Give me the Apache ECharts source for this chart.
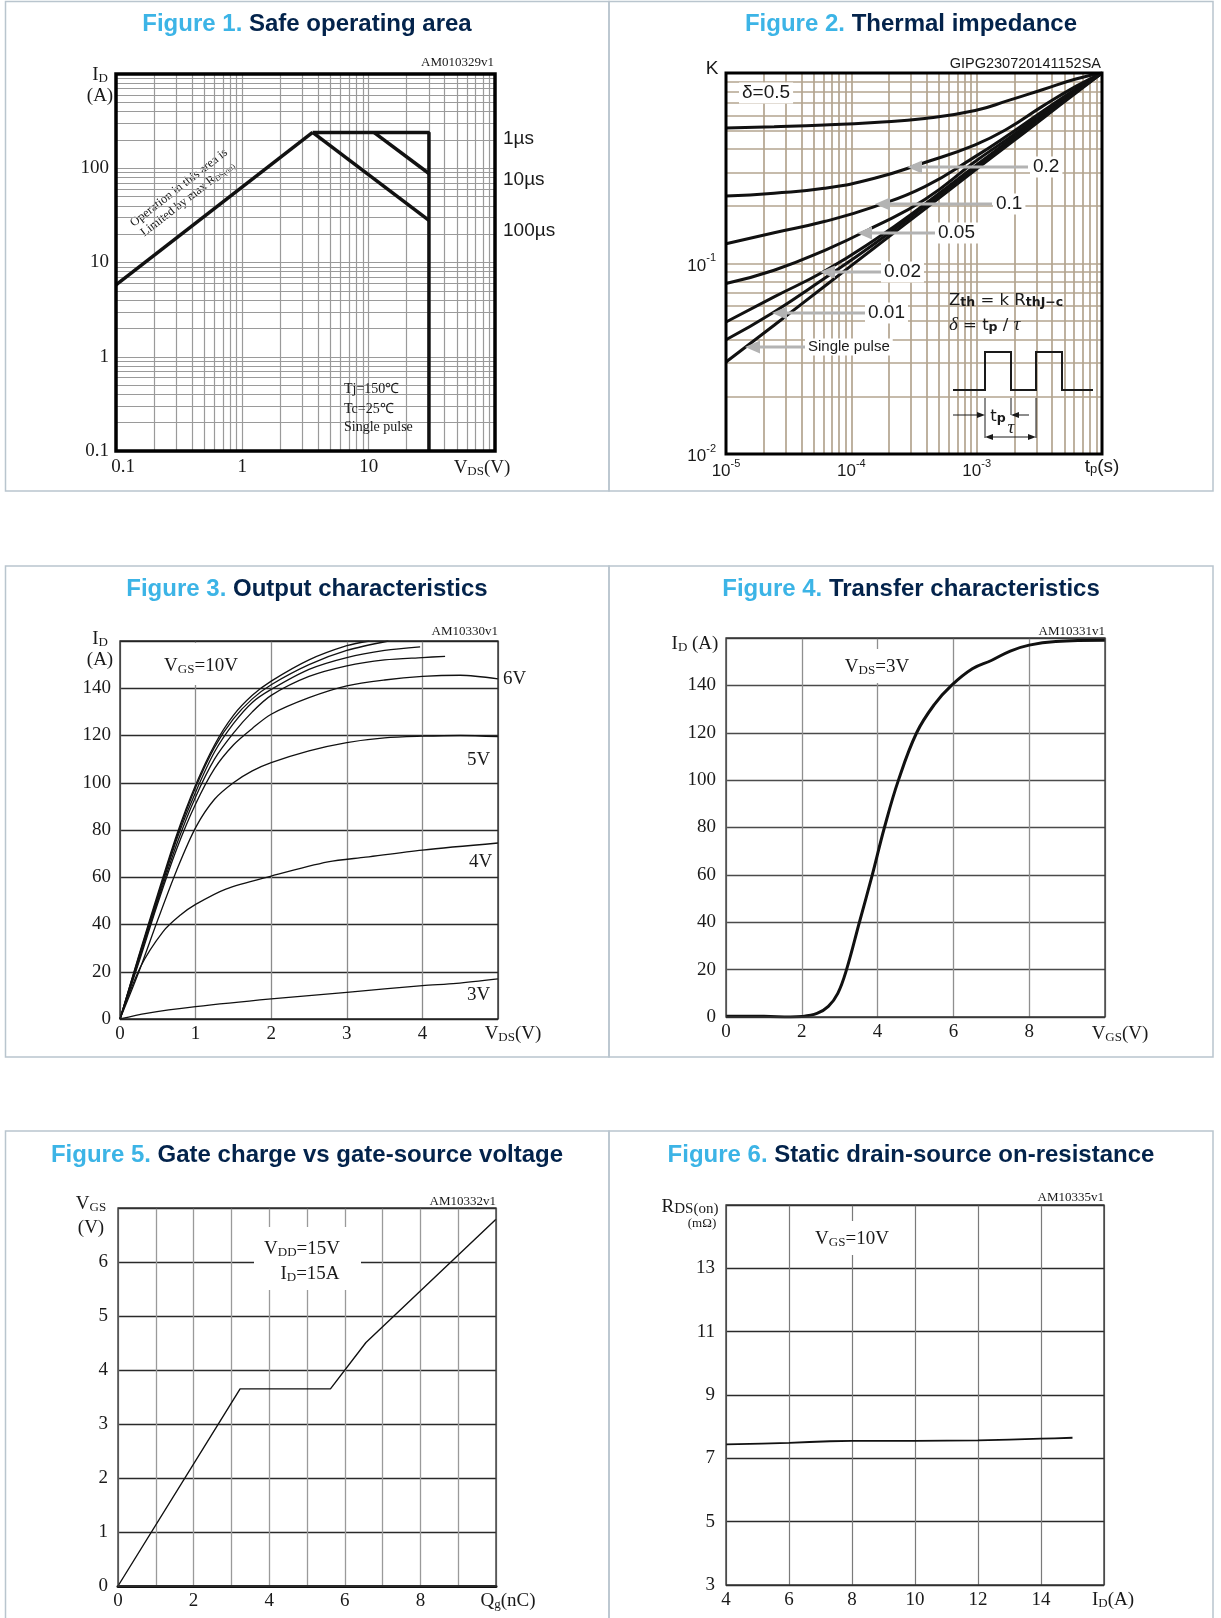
<!DOCTYPE html>
<html><head><meta charset="utf-8">
<script src="https://cdn.jsdelivr.net/npm/echarts@6/dist/echarts.min.js"></script>
<style>html,body{margin:0;padding:0;background:#fff}#c{width:1221px;height:1618px}</style>
</head><body><div id="c"></div>
<script>
// ================= DATA =================
// Figure 1 - Safe operating area  [VDS (V), ID (A)]
const soaRdsLimit = [[0.1, 5.8], [3.6, 240]];
const soa1us      = [[3.6, 240], [30, 240], [30, 0.1]];
const soa10us     = [[11, 240], [30, 88]];
const soa100us    = [[3.6, 240], [30, 28]];
const soaXLabels = {'-1': '{o|0.1}', '0': '1', '1': '10', '2': ''};
const soaYLabels = {'-1': '0.1', '0': '1', '1': '10', '2': '100', '3': ''};

// Figure 2 - Thermal impedance  (tp in s, K)
const zthTime   = [1e-5, 2.42e-5, 6.08e-5, 1.53e-4, 3.86e-4, 9.73e-4, 1.80e-3, 3.34e-3, 6.18e-3, 1e-2];
const zthD05    = [0.514, 0.522, 0.533, 0.550, 0.577, 0.636, 0.718, 0.817, 0.930, 1];
const zthD02    = [0.226, 0.234, 0.248, 0.280, 0.339, 0.420, 0.514, 0.668, 0.851, 1];
const zthD01    = [0.127, 0.145, 0.166, 0.199, 0.253, 0.364, 0.474, 0.628, 0.824, 1];
const zthD005   = [0.0785, 0.0922, 0.117, 0.156, 0.217, 0.343, 0.455, 0.611, 0.811, 1];
const zthD002   = [0.0493, 0.0668, 0.0911, 0.133, 0.205, 0.325, 0.441, 0.596, 0.801, 1];
const zthD001   = [0.0398, 0.0557, 0.0834, 0.127, 0.200, 0.318, 0.432, 0.587, 0.794, 1];
const zthSingle = [0.0304, 0.0474, 0.0757, 0.121, 0.193, 0.309, 0.421, 0.575, 0.785, 1];
const zthXLabels = {'-5': '{b|10}{sup|-5}', '-4': '{b|10}{sup|-4}', '-3': '{b|10}{sup|-3}', '-2': ''};
const zthYLabels = {'-2': '{b|10}{sup|-2}', '-1': '{b|10}{sup|-1}', '0': ''};

// Figure 3 - Output characteristics [VDS (V), ID (A)]
const out10V = [[0,0],[0.25,27],[0.5,53],[0.75,78],[1,99],[1.25,116],[1.5,128.5],[1.75,137],[2,143],[2.5,152],[3,158],[3.3,160]];
const out9V  = [[0,0],[0.25,26.5],[0.5,52],[0.75,77],[1,98],[1.25,115],[1.5,127],[1.75,135.5],[2,141.5],[2.5,150],[3,156],[3.55,160]];
const out8V  = [[0,0],[0.25,26],[0.5,51],[0.75,76],[1,96],[1.25,113],[1.5,125],[1.75,134],[2,139.5],[2.5,148],[3,153],[3.5,156],[3.97,157.5]];
const out7V  = [[0,0],[0.25,25],[0.5,50],[0.75,74],[1,94],[1.25,110],[1.5,121],[1.75,130],[2,137],[2.5,145],[3,149.5],[3.5,152],[4,153],[4.3,153.5]];
const out6V  = [[0,0],[0.25,24],[0.5,49],[0.75,72],[1,91],[1.25,106],[1.5,116],[1.75,123],[2,129],[2.5,136],[3,141],[3.5,143.5],[4,145],[4.5,145.5],[5,144]];
const out5V  = [[0,0],[0.25,20],[0.5,42],[0.75,63],[1,81],[1.25,93],[1.5,100],[1.75,105],[2,108.5],[2.5,113.5],[3,117],[3.5,119],[4,119.7],[4.5,120],[5,119.5]];
const out4V  = [[0,0],[0.27,22],[0.57,37],[0.8,44],[1,48.5],[1.4,55],[2,60.5],[2.75,66.5],[3.25,68.5],[4,71.5],[5,74.5]];
const out3V  = [[0,0],[0.35,2.4],[1,5.2],[2,8.5],[3,11.3],[4,14.1],[4.45,15.1],[5,17]];
const outXTicks = [0, 1, 2, 3, 4];
const outYTicks = [0, 20, 40, 60, 80, 100, 120, 140];

// Figure 4 - Transfer characteristics [VGS (V), ID (A)]
const trVgs = [0, 1.0, 1.7, 2.0, 2.4, 2.7, 2.95, 3.18, 3.52, 3.86, 4.18, 4.55, 5.03, 5.5, 5.95, 6.5, 7.0, 7.5, 8.0, 8.7, 10];
const trId  = [0.3, 0.3, 0, 0.2, 1.5, 4.5, 10, 20, 40, 60, 80, 100, 120, 132, 140, 147, 150.5, 154.5, 157, 158.5, 159];
const trXTicks = [0, 2, 4, 6, 8];
const trYTicks = [0, 20, 40, 60, 80, 100, 120, 140];

// Figure 5 - Gate charge [Qg (nC), VGS (V)]
const gateQ = [0, 3.23, 5.62, 6.56, 10];
const gateV = [0, 3.65, 3.65, 4.51, 6.79];
const gateXTicks = [0, 2, 4, 6, 8];
const gateYTicks = [0, 1, 2, 3, 4, 5, 6];

// Figure 6 - Static drain-source on-resistance [ID (A), RDS(on) (mOhm)]
const rdsId  = [4, 6, 7.3, 8, 10, 12, 14, 15];
const rdsVal = [7.44, 7.49, 7.54, 7.55, 7.55, 7.57, 7.62, 7.65];
const rdsXTicks = [4, 6, 8, 10, 12, 14];
const rdsYTicks = [3, 5, 7, 9, 11, 13];

// ================= STYLE / BUILD =================
const SERIF = "'Liberation Serif','Times New Roman',serif";
const SANS = "'Liberation Sans',Arial,sans-serif";
const DEJA = "'DejaVu Sans',sans-serif";
const INK = '#1a1a1a';

const RS = {
  m:  {fontFamily: SERIF, fontSize: 19, fill: INK, color: INK, lineHeight: 22, verticalAlign: 'bottom'},
  s:  {fontFamily: SERIF, fontSize: 13, fill: INK, color: INK, lineHeight: 18, verticalAlign: 'bottom'},
  ms: {fontFamily: SERIF, fontSize: 15, fill: INK, color: INK, lineHeight: 20, verticalAlign: 'bottom'},
  t:  {fontFamily: SERIF, fontSize: 12.5, fill: INK, color: INK, lineHeight: 14, verticalAlign: 'bottom'},
  ts: {fontFamily: SERIF, fontSize: 8, fill: INK, color: INK, lineHeight: 12, verticalAlign: 'bottom'},
  b:  {fontFamily: SANS, fontSize: 17, fill: INK, color: INK, lineHeight: 22, verticalAlign: 'bottom'},
  sup:{fontFamily: SANS, fontSize: 11, fill: INK, color: INK, lineHeight: 15, verticalAlign: 'top'},
  sub:{fontFamily: SANS, fontSize: 12, fill: INK, color: INK, lineHeight: 14, verticalAlign: 'bottom'},
  bb: {fontFamily: SANS, fontSize: 19, fill: INK, color: INK, lineHeight: 24, verticalAlign: 'bottom'},
  bs: {fontFamily: SANS, fontSize: 13, fill: INK, color: INK, lineHeight: 16, verticalAlign: 'bottom'},
  z:  {fontFamily: DEJA, fontSize: 16.5, fill: INK, color: INK, lineHeight: 22, verticalAlign: 'bottom'},
  zi: {fontFamily: SERIF, fontSize: 19, fontStyle: 'italic', fill: INK, color: INK, lineHeight: 22, verticalAlign: 'bottom'},
  zs: {fontFamily: DEJA, fontSize: 12.5, fontWeight: 'bold', fill: INK, color: INK, lineHeight: 15, verticalAlign: 'bottom'}
};

const G = [];
function rect(x, y, w, h, o) {
  o = o || {};
  G.push({type: 'rect', z: o.z != null ? o.z : 3, silent: true, shape: {x, y, width: w, height: h},
    style: {fill: o.fill === undefined ? '#fff' : o.fill, stroke: o.stroke || null, lineWidth: o.lw || 0}});
}
function text(x, y, str, o) {
  o = o || {};
  const st = {text: str, fill: o.c || INK, fontFamily: o.ff || SERIF, fontSize: o.fs || 19,
    fontWeight: o.fw || 'normal', fontStyle: o.fst || 'normal',
    align: o.al || 'left', textAlign: o.al || 'left', verticalAlign: 'middle', textVerticalAlign: 'middle', rich: RS};
  if (o.bg) { st.backgroundColor = o.bg; st.padding = o.pad || [1, 3]; }
  if (o.rich) st.rich = o.rich;
  G.push({type: 'text', z: o.z || 8, x, y, rotation: o.rot || 0, silent: true, style: st});
}
function pline(pts, o) {
  o = o || {};
  G.push({type: 'polyline', z: o.z || 8, silent: true, shape: {points: pts}, style: {stroke: o.c || INK, lineWidth: o.w || 1, fill: null}});
}
function pgon(pts, o) {
  o = o || {};
  G.push({type: 'polygon', z: o.z || 8, silent: true, shape: {points: pts}, style: {fill: o.c || INK}});
}

// panel frames
const FR = '#b9c5ce';
[[5.5, 1.5, 603.5, 489.5], [609, 1.5, 604, 489.5], [5.5, 566, 603.5, 491], [609, 566, 604, 491],
 [5.5, 1131, 603.5, 520], [609, 1131, 604, 520]].forEach(r => rect(r[0], r[1], r[2], r[3], {fill: null, stroke: FR, lw: 1.5, z: 0}));

// titles
const TR = {
  a: {fontFamily: SANS, fontSize: 24, fontWeight: 'bold', fill: '#3cb4e6', color: '#3cb4e6'},
  b: {fontFamily: SANS, fontSize: 24, fontWeight: 'bold', fill: '#03234b', color: '#03234b'}
};
[[307, 24, 'Figure 1. ', 'Safe operating area'], [911, 24, 'Figure 2. ', 'Thermal impedance'],
 [307, 589, 'Figure 3. ', 'Output characteristics'], [911, 589, 'Figure 4. ', 'Transfer characteristics'],
 [307, 1155, 'Figure 5. ', 'Gate charge vs gate-source voltage'], [911, 1155, 'Figure 6. ', 'Static drain-source on-resistance']
].forEach(t => text(t[0], t[1], '{a|' + t[2] + '}{b|' + t[3] + '}', {al: 'center', rich: TR}));

// ---- Fig 1 annotations
text(100, 74, '{m|I}{s|D}', {al: 'center'});
text(100, 96, '(A)', {al: 'center'});
text(494, 63, 'AM010329v1', {al: 'right', fs: 13});
text(482, 467, '{m|V}{s|DS}{m|(V)}', {al: 'center'});
text(503, 139, '1µs', {ff: SANS, fs: 19});
text(503, 180, '10µs', {ff: SANS, fs: 19});
text(503, 231, '100µs', {ff: SANS, fs: 19});
text(183, 193, '{t|Operation in this area is}\n{t|Limited by max R}{ts|DS(on)}', {al: 'center', rot: 0.66, bg: '#fff', pad: [2, 4], z: 4});
rect(332, 377, 86, 58, {z: 3});
text(344, 389, 'Tj=150℃', {fs: 14});
text(344, 409, 'Tc=25℃', {fs: 14});
text(344, 427, 'Single pulse', {fs: 14});

// ---- Fig 2 annotations
text(712, 69, 'K', {ff: SANS, fs: 19, al: 'center'});
text(1101, 64, 'GIPG230720141152SA', {ff: SANS, fs: 14.5, al: 'right'});
text(1102, 464, '{bb|t}{bs|p}{bb|(s)}', {al: 'center'});
text(739, 93, 'δ=0.5', {ff: SANS, fs: 19, bg: '#fff'});
const ARG = '#b3b3b3';
[[907, 167, 1028], [875, 204, 992], [857, 233, 937], [820, 272, 883], [772, 313, 867], [745, 347, 807]].forEach(a => {
  pline([[a[0] + 10, a[1]], [a[2], a[1]]], {c: ARG, w: 3, z: 7});
  pgon([[a[0], a[1]], [a[0] + 15, a[1] - 6.5], [a[0] + 15, a[1] + 6.5]], {c: ARG, z: 7});
});
[['0.2', 1030, 167], ['0.1', 993, 204], ['0.05', 935, 233], ['0.02', 881, 272], ['0.01', 865, 313]].forEach(l =>
  text(l[1], l[2], l[0], {ff: SANS, fs: 19, bg: '#fff', z: 8}));
text(805, 347, 'Single pulse', {ff: SANS, fs: 15, bg: '#fff', z: 8});
rect(938, 277, 162, 171, {z: 3});
text(949, 298, '{z|Z}{zs|th}{z| = k R}{zs|thJ−c}');
text(949, 323, '{zi|δ}{z| = t}{zs|p}{z| / }{zi|τ}');
pline([[953, 390], [985, 390], [985, 352], [1011, 352], [1011, 390], [1036, 390], [1036, 352], [1062, 352], [1062, 390], [1093, 390]], {w: 2});
pline([[953, 415], [980, 415]], {w: 1});
pgon([[985, 415], [977, 412], [977, 418]]);
pline([[985, 398], [985, 438]], {w: 1});
pline([[1011, 398], [1011, 415]], {w: 1});
pline([[1016, 415], [1029, 415]], {w: 1});
pgon([[1011, 415], [1019, 412], [1019, 418]]);
pline([[1036, 398], [1036, 438]], {w: 1});
pline([[990, 437], [1031, 437]], {w: 1});
pgon([[985, 437], [993, 434], [993, 440]]);
pgon([[1036, 437], [1028, 434], [1028, 440]]);
text(998, 414, '{z|t}{zs|p}', {al: 'center'});
text(1011, 428, 'τ', {ff: SERIF, fs: 19, fst: 'italic', al: 'center'});

// ---- Fig 3 annotations
text(100, 638, '{m|I}{s|D}', {al: 'center'});
text(100, 660, '(A)', {al: 'center'});
text(498, 632, 'AM10330v1', {al: 'right', fs: 13});
rect(157, 643, 90, 42, {z: 3});
text(201, 665, '{m|V}{s|GS}{m|=10V}', {al: 'center'});
text(503, 679, '6V');
text(467, 760, '5V');
text(469, 862, '4V');
text(467, 995, '3V');
text(513, 1033, '{m|V}{s|DS}{m|(V)}', {al: 'center'});

// ---- Fig 4 annotations
text(695, 643, '{m|I}{s|D}{m| (A)}', {al: 'center'});
text(1105, 632, 'AM10331v1', {al: 'right', fs: 13});
text(877, 666, '{m|V}{s|DS}{m|=3V}', {al: 'center', bg: '#fff', pad: [6, 2], z: 8});
text(1120, 1033, '{m|V}{s|GS}{m|(V)}', {al: 'center'});

// ---- Fig 5 annotations
text(91, 1203, '{m|V}{s|GS}', {al: 'center'});
text(91, 1228, '(V)', {al: 'center'});
text(496, 1202, 'AM10332v1', {al: 'right', fs: 13});
rect(254, 1227, 107, 63, {z: 3});
text(302, 1248, '{m|V}{s|DD}{m|=15V}', {al: 'center'});
text(310, 1273, '{m|I}{s|D}{m|=15A}', {al: 'center'});
text(508, 1600, '{m|Q}{s|g}{m|(nC)}', {al: 'center'});

// ---- Fig 6 annotations
text(690, 1206, '{m|R}{ms|DS(on)}', {al: 'center'});
text(702, 1224, '(mΩ)', {al: 'center', fs: 13});
text(1104, 1198, 'AM10335v1', {al: 'right', fs: 13});
text(852, 1238, '{m|V}{s|GS}{m|=10V}', {al: 'center', bg: '#fff', pad: [6, 2], z: 8});
text(1113, 1599, '{m|I}{s|D}{m|(A)}', {al: 'center'});

// ---- log grid line positions (1..9 per decade)
function logSteps(e0, e1) { const a = []; for (let e = e0; e < e1; e++) for (let m = 1; m < 10; m++) a.push(m * Math.pow(10, e)); a.push(Math.pow(10, e1)); return a; }
function gridSeries(xi, xs, ys, color, width) {
  return {type: 'line', xAxisIndex: xi, yAxisIndex: xi, data: [], silent: true, z: 1,
    markLine: {silent: true, precision: 12, symbol: ['none', 'none'], animation: false, label: {show: false}, emphasis: {disabled: true},
      lineStyle: {color, width, type: 'solid'},
      data: xs.map(v => ({xAxis: v})).concat(ys.map(v => ({yAxis: v})))}};
}
const lg = v => Math.round(Math.log10(v));

function baseLabel(extra) { return Object.assign({color: INK, fontFamily: SERIF, fontSize: 19, margin: 6}, extra || {}); }
function curve(xi, data, w, smooth) {
  return {type: 'line', xAxisIndex: xi, yAxisIndex: xi, data, showSymbol: false, symbol: 'none', smooth: smooth || false,
    lineStyle: {color: '#111', width: w}, z: 5, silent: true};
}
const richSup = {b: RS.b, sup: RS.sup};
const noLine = {show: false};

const option = {
  animation: false,
  backgroundColor: '#fff',
  grid: [
    {left: 116, top: 74, width: 379, height: 377, show: true, borderColor: '#000', borderWidth: 3.5, z: 6, backgroundColor: 'transparent'},
    {left: 726, top: 73, width: 376, height: 381, show: true, borderColor: '#000', borderWidth: 3, z: 6, backgroundColor: 'transparent'},
    {left: 120, top: 641, width: 378, height: 378, show: true, borderColor: '#222', borderWidth: 1.3, z: 6, backgroundColor: 'transparent'},
    {left: 726, top: 638, width: 379, height: 379, show: true, borderColor: '#333', borderWidth: 1.3, z: 6, backgroundColor: 'transparent'},
    {left: 118, top: 1208, width: 378, height: 378, show: true, borderColor: '#333', borderWidth: 1.3, z: 6, backgroundColor: 'transparent'},
    {left: 726, top: 1205, width: 378, height: 380, show: true, borderColor: '#333', borderWidth: 1.3, z: 6, backgroundColor: 'transparent'}
  ],
  xAxis: [
    {type: 'log', logBase: 10, gridIndex: 0, min: 0.1, max: 100, axisLine: noLine, axisTick: noLine, splitLine: noLine,
      axisLabel: baseLabel({margin: 7, rich: {o: {fontFamily: SERIF, fontSize: 19, color: INK, padding: [0, 0, 0, 14]}}, formatter: v => soaXLabels[lg(v)] || ''})},
    {type: 'log', logBase: 10, gridIndex: 1, min: 1e-5, max: 1e-2, axisLine: noLine, axisTick: noLine, splitLine: noLine,
      axisLabel: baseLabel({margin: 4, rich: richSup, formatter: v => zthXLabels[lg(v)] || ''})},
    {type: 'value', gridIndex: 2, min: 0, max: 5, interval: 1, axisLine: noLine, axisTick: noLine,
      splitLine: {show: true, lineStyle: {color: '#8c8c8c', width: 1.3}},
      axisLabel: baseLabel({formatter: v => outXTicks.includes(v) ? String(v) : ''})},
    {type: 'value', gridIndex: 3, min: 0, max: 10, interval: 2, axisLine: noLine, axisTick: noLine,
      splitLine: {show: true, lineStyle: {color: '#8f8f8f', width: 1.3}},
      axisLabel: baseLabel({formatter: v => trXTicks.includes(v) ? String(v) : ''})},
    {type: 'value', gridIndex: 4, min: 0, max: 10, interval: 1, axisTick: noLine,
      axisLine: {show: true, lineStyle: {color: '#111', width: 3}},
      splitLine: {show: true, lineStyle: {color: '#9a9a9a', width: 1.3}},
      axisLabel: baseLabel({formatter: v => gateXTicks.includes(v) ? String(v) : ''})},
    {type: 'value', gridIndex: 5, min: 4, max: 16, interval: 2, axisLine: noLine, axisTick: noLine,
      splitLine: {show: true, lineStyle: {color: '#7a7a7a', width: 1.2}},
      axisLabel: baseLabel({formatter: v => rdsXTicks.includes(v) ? String(v) : ''})}
  ],
  yAxis: [
    {type: 'log', logBase: 10, gridIndex: 0, min: 0.1, max: 1000, axisLine: noLine, axisTick: noLine, splitLine: noLine,
      axisLabel: baseLabel({margin: 7, formatter: v => soaYLabels[lg(v)] || ''})},
    {type: 'log', logBase: 10, gridIndex: 1, min: 0.01, max: 1, axisLine: noLine, axisTick: noLine, splitLine: noLine,
      axisLabel: baseLabel({margin: 10, rich: richSup, formatter: v => zthYLabels[lg(v)] || ''})},
    {type: 'value', gridIndex: 2, min: 0, max: 160, interval: 20, axisLine: noLine, axisTick: noLine,
      splitLine: {show: true, lineStyle: {color: '#2a2a2a', width: 1.3}},
      axisLabel: baseLabel({margin: 9, formatter: v => outYTicks.includes(v) ? String(v) : ''})},
    {type: 'value', gridIndex: 3, min: 0, max: 160, interval: 20, axisLine: noLine, axisTick: noLine,
      splitLine: {show: true, lineStyle: {color: '#4a4a4a', width: 1.3}},
      axisLabel: baseLabel({margin: 10, formatter: v => trYTicks.includes(v) ? String(v) : ''})},
    {type: 'value', gridIndex: 4, min: 0, max: 7, interval: 1, axisLine: noLine, axisTick: noLine,
      splitLine: {show: true, lineStyle: {color: '#2a2a2a', width: 1.3}},
      axisLabel: baseLabel({margin: 10, formatter: v => gateYTicks.includes(v) ? String(v) : ''})},
    {type: 'value', gridIndex: 5, min: 3, max: 15, interval: 2, axisLine: noLine, axisTick: noLine,
      splitLine: {show: true, lineStyle: {color: '#2a2a2a', width: 1.3}},
      axisLabel: baseLabel({margin: 11, formatter: v => rdsYTicks.includes(v) ? String(v) : ''})}
  ],
  series: [
    gridSeries(0, logSteps(-1, 2), logSteps(-1, 3), '#9a9a9a', 1.2),
    gridSeries(1, logSteps(-5, -2), logSteps(-2, 0), '#b3a48f', 1.7),
    curve(0, soaRdsLimit, 3.5), curve(0, soa1us, 3.5), curve(0, soa10us, 3.5), curve(0, soa100us, 3.5),
    curve(1, zthTime.map((t, i) => [t, zthD05[i]]), 3, true),
    curve(1, zthTime.map((t, i) => [t, zthD02[i]]), 3, true),
    curve(1, zthTime.map((t, i) => [t, zthD01[i]]), 3, true),
    curve(1, zthTime.map((t, i) => [t, zthD005[i]]), 3, true),
    curve(1, zthTime.map((t, i) => [t, zthD002[i]]), 3, true),
    curve(1, zthTime.map((t, i) => [t, zthD001[i]]), 3, true),
    curve(1, zthTime.map((t, i) => [t, zthSingle[i]]), 3, true),
    curve(2, out10V, 1.3, 0.3), curve(2, out9V, 1.3, 0.3), curve(2, out8V, 1.3, 0.3), curve(2, out7V, 1.3, 0.3),
    curve(2, out6V, 1.3, 0.3), curve(2, out5V, 1.3, 0.3), curve(2, out4V, 1.3, 0.3), curve(2, out3V, 1.3, 0.3),
    curve(3, trVgs.map((v, i) => [v, trId[i]]), 3, 0.4),
    curve(4, gateQ.map((q, i) => [q, gateV[i]]), 1.4),
    curve(5, rdsId.map((x, i) => [x, rdsVal[i]]), 1.8, 0.3)
  ],
  graphic: {elements: G}
};

const chart = echarts.init(document.getElementById('c'), null, {renderer: 'canvas'});
chart.setOption(option);
</script>
</body></html>
